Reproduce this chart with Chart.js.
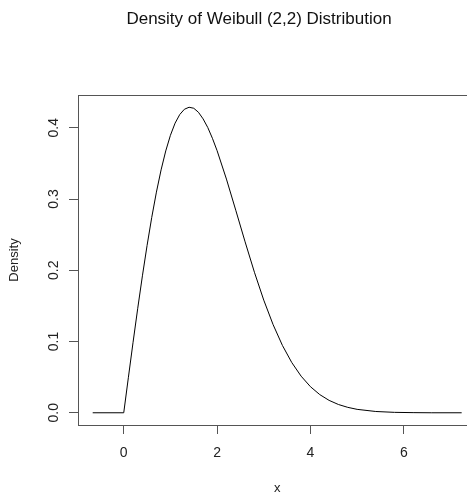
<!DOCTYPE html>
<html>
<head>
<meta charset="utf-8">
<script src="https://cdn.jsdelivr.net/npm/chart.js@4/dist/chart.umd.min.js"></script>
<style>
html,body{margin:0;padding:0;background:#fff;overflow:hidden;width:467px;height:494px;}
canvas{display:block;}
</style>
</head>
<body>
<canvas id="c" width="520" height="494" style="width:520px;height:494px"></canvas>
<script>
// Values
const xValues = [-0.665, 0, 0.1, 0.2, 0.3, 0.4, 0.5, 0.6, 0.7, 0.8, 0.9, 1.0, 1.1, 1.2, 1.3, 1.4, 1.5, 1.6, 1.7, 1.8, 1.9, 2.0, 2.2, 2.4, 2.6, 2.8, 3.0, 3.2, 3.4, 3.6, 3.8, 4.0, 4.2, 4.4, 4.6, 4.8, 5.0, 5.4, 5.8, 6.2, 6.6, 7.24];
const densityValues = [0, 0, 0.0499, 0.0990, 0.1467, 0.1922, 0.2349, 0.2742, 0.3097, 0.3409, 0.3675, 0.3894, 0.4065, 0.4186, 0.4260, 0.4288, 0.4274, 0.4218, 0.4125, 0.4004, 0.3852, 0.3679, 0.3280, 0.2843, 0.2399, 0.1972, 0.1581, 0.1237, 0.0945, 0.0705, 0.0514, 0.0366, 0.0255, 0.0174, 0.0116, 0.0076, 0.0048, 0.0018, 0.0006, 0.0002, 0.0000, 0];
const xTicks = [0, 2, 4, 6];
const yTicks = [0, 0.1, 0.2, 0.3, 0.4];
const titleText = 'Density of Weibull (2,2) Distribution';
const xLabel = 'x';
const yLabel = 'Density';

const points = xValues.map((x, i) => ({x: x, y: densityValues[i]}));
const FONT = '"Liberation Sans", Arial, Helvetica, sans-serif';
const AXIS = '#555555';

const framePlugin = {
  id: 'frame',
  afterDraw(chart) {
    const a = chart.chartArea, ctx = chart.ctx;
    ctx.save();
    ctx.strokeStyle = AXIS;
    ctx.lineWidth = 1;
    ctx.beginPath();
    ctx.moveTo(Math.round(a.left) + 0.5, Math.round(a.top) + 0.5);
    ctx.lineTo(Math.round(a.right) + 0.5, Math.round(a.top) + 0.5);
    ctx.stroke();
    ctx.restore();
  }
};

Chart.defaults.font.family = FONT;
Chart.defaults.color = '#222';

new Chart(document.getElementById('c'), {
  type: 'line',
  data: {
    datasets: [{
      data: points,
      borderColor: '#000',
      borderWidth: 1,
      pointRadius: 0,
      tension: 0,
      fill: false
    }]
  },
  options: {
    responsive: false,
    devicePixelRatio: 1,
    animation: false,
    layout: { padding: { left: 41.4, right: 43.4, top: 0, bottom: 0 } },
    plugins: {
      legend: { display: false },
      tooltip: { enabled: false },
      title: {
        display: true,
        text: titleText,
        color: '#111',
        font: { size: 17, weight: 'normal', family: FONT },
        padding: { top: 8.8, bottom: 65.8 }
      }
    },
    scales: {
      x: {
        type: 'linear',
        min: -0.98,
        max: 7.56,
        afterBuildTicks(s) { s.ticks = xTicks.map(v => ({value: v})); },
        afterFit(s) { s.height = 69; },
        grid: { display: true, drawOnChartArea: false, drawTicks: true, tickLength: 9, tickColor: AXIS, color: AXIS },
        border: { display: true, color: AXIS, width: 1 },
        ticks: { font: { size: 14 }, color: '#222', padding: 11, maxRotation: 0, minRotation: 0 },
        title: { display: true, text: xLabel, font: { size: 13 }, color: '#222', padding: { top: 0, bottom: -2 } }
      },
      y: {
        type: 'linear',
        min: -0.01716,
        max: 0.446,
        afterBuildTicks(s) { s.ticks = yTicks.map(v => ({value: v})); },
        afterFit(s) { s.width = 36.6; },
        grid: { display: true, drawOnChartArea: false, drawTicks: true, tickLength: 9, tickColor: AXIS, color: AXIS },
        border: { display: true, color: AXIS, width: 1 },
        ticks: {
          font: { size: 14 }, color: '#222', padding: 5.25,
          minRotation: 90, maxRotation: 90, crossAlign: 'center',
          callback: v => Number(v).toFixed(1)
        },
        title: { display: true, text: yLabel, font: { size: 13 }, color: '#222', padding: { top: -35.2, bottom: 0 } }
      }
    }
  },
  plugins: [framePlugin]
});
</script>
</body>
</html>
